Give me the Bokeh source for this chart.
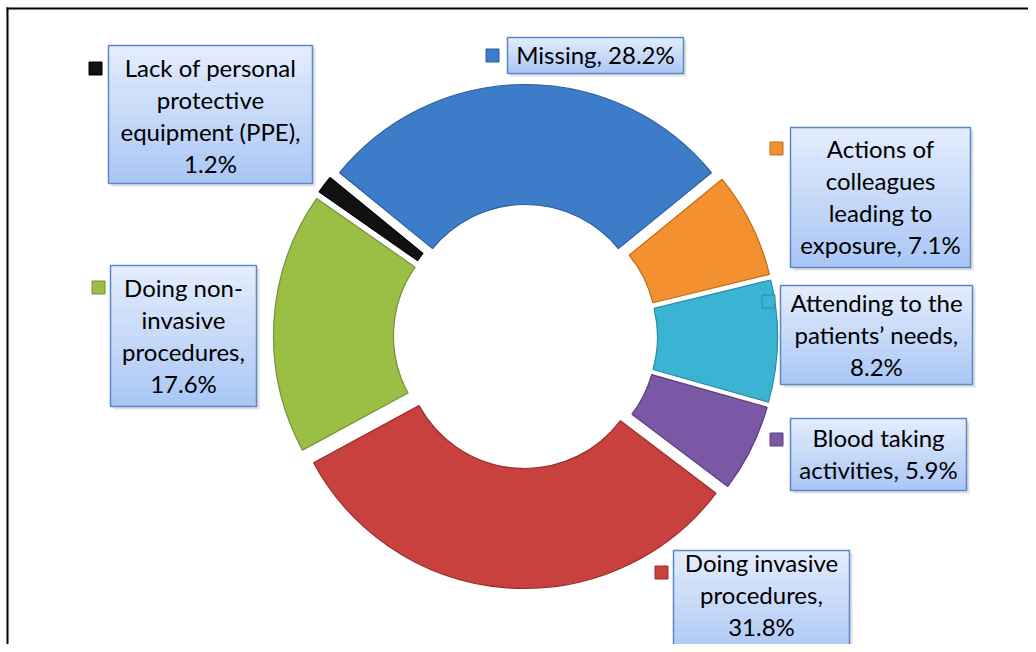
import numpy as np
from bokeh.plotting import figure
from bokeh.models import Range1d, BoxAnnotation, ColumnDataSource
from bokeh.embed import file_html
from bokeh.resources import INLINE
from bokeh.core.properties import value

# ---------------- data ----------------
categories = [
    "Missing",
    "Actions of colleagues leading to exposure",
    "Attending to the patients’ needs",
    "Blood taking activities",
    "Doing invasive procedures",
    "Doing non-invasive procedures",
    "Lack of personal protective equipment (PPE)",
]
values = [28.2, 7.1, 8.2, 5.9, 31.8, 17.6, 1.2]
wrapped_names = [
    "Missing",
    "Actions of\ncolleagues\nleading to\nexposure",
    "Attending to the\npatients’ needs",
    "Blood taking\nactivities",
    "Doing invasive\nprocedures",
    "Doing non-\ninvasive\nprocedures",
    "Lack of personal\nprotective\nequipment (PPE)",
]
separators = [", ", ", ", ",\n", ", ", ",\n", ",\n", ",\n"]

# ---------------- styles / layout ----------------
fill_colors = ["#3D7CC9", "#F39130", "#3BB3D3", "#7B58A6", "#C9413F", "#9BBF45", "#111111"]
edge_colors = ["#2B5E9E", "#C46A16", "#2A8BA6", "#5A3E80", "#9A2E2C", "#75913A", "#000000"]

W, H = 1028, 644
def P(px, py):
    """picture pixel -> data coords"""
    return px, H - py

CX, CY = P(525, 336)
R_OUT, R_IN, EXPLODE = 240, 120, 12

# box (left, top, right, bottom) picture px ; marker centre picture px
boxes = [
    (507, 37, 683, 73),
    (790, 127, 970, 267),
    (780, 285, 972, 384),
    (790, 418, 966, 490),
    (673, 550, 849, 658),
    (110, 265, 256, 406),
    (108, 45, 312, 183),
]
text_centers = [(595, 54), (880, 196), (876, 334), (878, 453), (761, 594), (183, 335), (210, 115)]
markers = [(492, 55), (776, 148), (768, 301), (776, 439), (661, 572), (98, 287), (95, 68)]

p = figure(width=W, height=H, x_range=Range1d(0, W), y_range=Range1d(0, H),
           output_backend="svg", toolbar_location=None, min_border=0,
           x_axis_location=None, y_axis_location=None)
p.grid.visible = False
p.outline_line_color = None
p.background_fill_color = "white"
p.border_fill_color = "white"

# picture frame (only its left and top edges are visible)
p.add_layout(BoxAnnotation(left=6, right=8, top=H - 7, bottom=None,
                           fill_color="black", fill_alpha=1, line_color=None))
p.add_layout(BoxAnnotation(left=6, right=None, top=H - 7, bottom=H - 9,
                           fill_color="black", fill_alpha=1, line_color=None))

# ---------------- donut ----------------
vals = np.array(values)
deg = vals / vals.sum() * 360.0
theta_start = -deg[0] / 2 + np.concatenate([[0], np.cumsum(deg)[:-1]])  # clockwise from 12 o'clock
theta_end = theta_start + deg
theta_mid = (theta_start + theta_end) / 2
rad = np.deg2rad
xs = CX + EXPLODE * np.sin(rad(theta_mid))
ys = CY + EXPLODE * np.cos(rad(theta_mid))
src = ColumnDataSource(dict(
    x=xs, y=ys,
    start=np.pi / 2 - rad(theta_start),
    end=np.pi / 2 - rad(theta_end),
    fill=fill_colors, edge=edge_colors, cat=categories, val=values,
))
p.annular_wedge(x="x", y="y", inner_radius=R_IN, outer_radius=R_OUT,
                start_angle="start", end_angle="end", direction="clock",
                fill_color="fill", line_color="edge", line_width=1.2, source=src)

# ---------------- labels ----------------
def lerp(c1, c2, t):
    a = [int(c1[i:i + 2], 16) for i in (1, 3, 5)]
    b = [int(c2[i:i + 2], 16) for i in (1, 3, 5)]
    return "#%02x%02x%02x" % tuple(int(round(a[k] + (b[k] - a[k]) * t)) for k in range(3))

labels = [n + s + f"{v:.1f}%" for n, s, v in zip(wrapped_names, separators, values)]

NSTRIP = 14
for (l, t, r, b) in boxes:
    x0, y0 = P(l, t)
    x1, y1 = P(r, b)
    p.quad(left=x0 + 3, right=x1 + 3, top=y0 - 3, bottom=y1 - 3,
           fill_color="#888888", fill_alpha=0.25, line_color=None)
    tops, bots, cols = [], [], []
    for k in range(NSTRIP):
        tops.append(y0 - (y0 - y1) * k / NSTRIP)
        bots.append(y0 - (y0 - y1) * (k + 1) / NSTRIP - 0.5)
        cols.append(lerp("#E4EDFC", "#A9C6F5", (k + 0.5) / NSTRIP))
    p.quad(left=[x0] * NSTRIP, right=[x1] * NSTRIP, top=tops, bottom=bots,
           fill_color=cols, line_color=None)
    p.quad(left=x0, right=x1, top=y0, bottom=y1, fill_color=None,
           line_color="#5A88C6", line_width=1.5)

tx = [P(a, b)[0] for a, b in text_centers]
ty = [P(a, b)[1] for a, b in text_centers]
p.text(x=tx, y=ty, text=labels, text_font=value("Lato"), text_font_size="24px",
       text_align="center", text_baseline="middle", text_line_height=1.11,
       text_color="black")

mx = [P(a, b)[0] for a, b in markers]
my = [P(a, b)[1] for a, b in markers]
p.scatter(x=mx, y=my, marker="square", size=13, fill_color=fill_colors,
          line_color=edge_colors, line_width=1)

open("out.html", "w").write(file_html(p, INLINE))
